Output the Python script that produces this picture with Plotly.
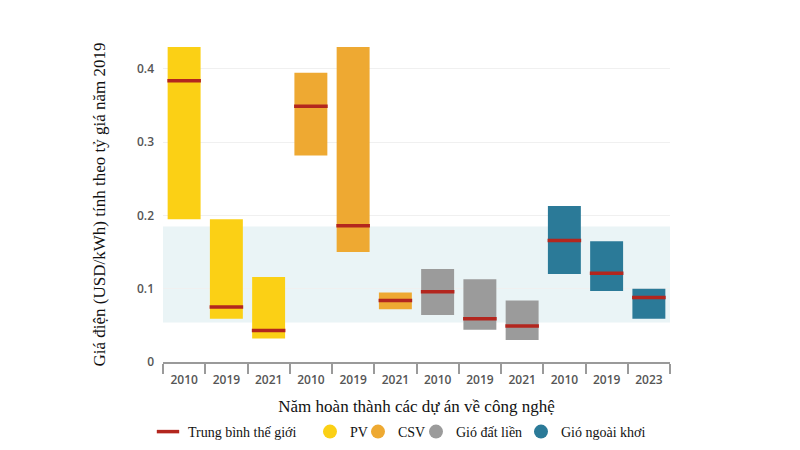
import plotly.graph_objects as go

years = ["2010", "2019", "2021", "2010", "2019", "2021", "2010", "2019", "2021", "2010", "2019", "2023"]
tech = ["PV", "PV", "PV", "CSV", "CSV", "CSV", "Gió đất liền", "Gió đất liền", "Gió đất liền",
        "Gió ngoài khơi", "Gió ngoài khơi", "Gió ngoài khơi"]
low = [0.195, 0.059, 0.032, 0.282, 0.150, 0.072, 0.064, 0.044, 0.030, 0.120, 0.097, 0.059]
high = [0.430, 0.195, 0.116, 0.395, 0.430, 0.095, 0.127, 0.113, 0.084, 0.213, 0.165, 0.100]
mean = [0.384, 0.075, 0.043, 0.349, 0.186, 0.084, 0.096, 0.059, 0.049, 0.166, 0.121, 0.088]
band = [0.054, 0.185]
tech_names = ["PV", "CSV", "Gió đất liền", "Gió ngoài khơi"]

colors = {"PV": "#FBD015", "CSV": "#EEA932", "Gió đất liền": "#9B9B9B", "Gió ngoài khơi": "#2B7A98"}
mean_color = "#B3261E"
serif = "Liberation Serif"

# page has an 8px body margin; compensate so the plot lands where the reference has it
L, R, T, B = 155, 138, 39, 96

x = list(range(len(years)))
fig = go.Figure()

fig.add_trace(go.Bar(
    x=x, y=[h - l for h, l in zip(high, low)], base=low,
    marker=dict(color=[colors[t] for t in tech], line=dict(width=0)),
    width=0.78, showlegend=False, hoverinfo="skip"))

fig.add_trace(go.Scatter(
    x=x, y=mean, mode="markers", name="Trung bình thế giới", legend="legend",
    marker=dict(symbol="line-ew", size=24, line=dict(color=mean_color, width=3.5))))

legend_names = ["legend2", "legend3", "legend4", "legend5"]
for t, lg in zip(tech_names, legend_names):
    fig.add_trace(go.Scatter(
        x=[None], y=[None], mode="markers", name=t, legend=lg,
        marker=dict(symbol="circle", size=14, color=colors[t])))

fig.add_shape(type="rect", xref="x", yref="y", x0=-0.6, x1=11.6, y0=band[0], y1=band[1],
              fillcolor="#EAF4F6", line=dict(width=0), layer="below")


def leg(center_px):
    return dict(orientation="h", xref="container", yref="container",
                x=(center_px - 27) / 800, y=26 / 450, xanchor="left", yanchor="middle",
                font=dict(family=serif, size=14, color="#111"), itemwidth=30,
                bgcolor="rgba(0,0,0,0)")


fig.update_layout(
    width=800, height=450,
    margin=dict(l=L, r=R, t=T, b=B),
    plot_bgcolor="white", paper_bgcolor="white",
    showlegend=True,
    legend=leg(167), legend2=leg(329), legend3=leg(377), legend4=leg(435), legend5=leg(540),
    xaxis=dict(range=[-0.5, 11.5], tickmode="array", tickvals=x, ticktext=years,
               ticks="", showgrid=False, zeroline=False, automargin=False,
               showline=True, linecolor="#9a9a9a", linewidth=2, ticklabelstandoff=6,
               tickfont=dict(family="Open Sans", size=12, color="#555", weight=600),
               minor=dict(tick0=-0.5, dtick=1, ticks="outside", ticklen=10, tickcolor="#9a9a9a",
                          tickwidth=2, showgrid=False),
               title=dict(text="Năm hoàn thành các dự án về công nghệ",
                          font=dict(family=serif, size=17, color="#111"), standoff=13)),
    yaxis=dict(range=[0, 0.43], tickvals=[0, 0.1, 0.2, 0.3, 0.4],
               ticktext=["0", "0.1", "0.2", "0.3", "0.4"], automargin=False,
               showgrid=True, gridcolor="#F0F0F0", zeroline=False, showline=False,
               ticks="", ticklabelstandoff=8,
               tickfont=dict(family="Open Sans", size=12, color="#555", weight=600),
               title=dict(text="Giá điện (USD/kWh) tính theo tỷ giá năm 2019",
                          font=dict(family=serif, size=17, color="#111"), standoff=27)),
)

fig.write_html("out.html")
